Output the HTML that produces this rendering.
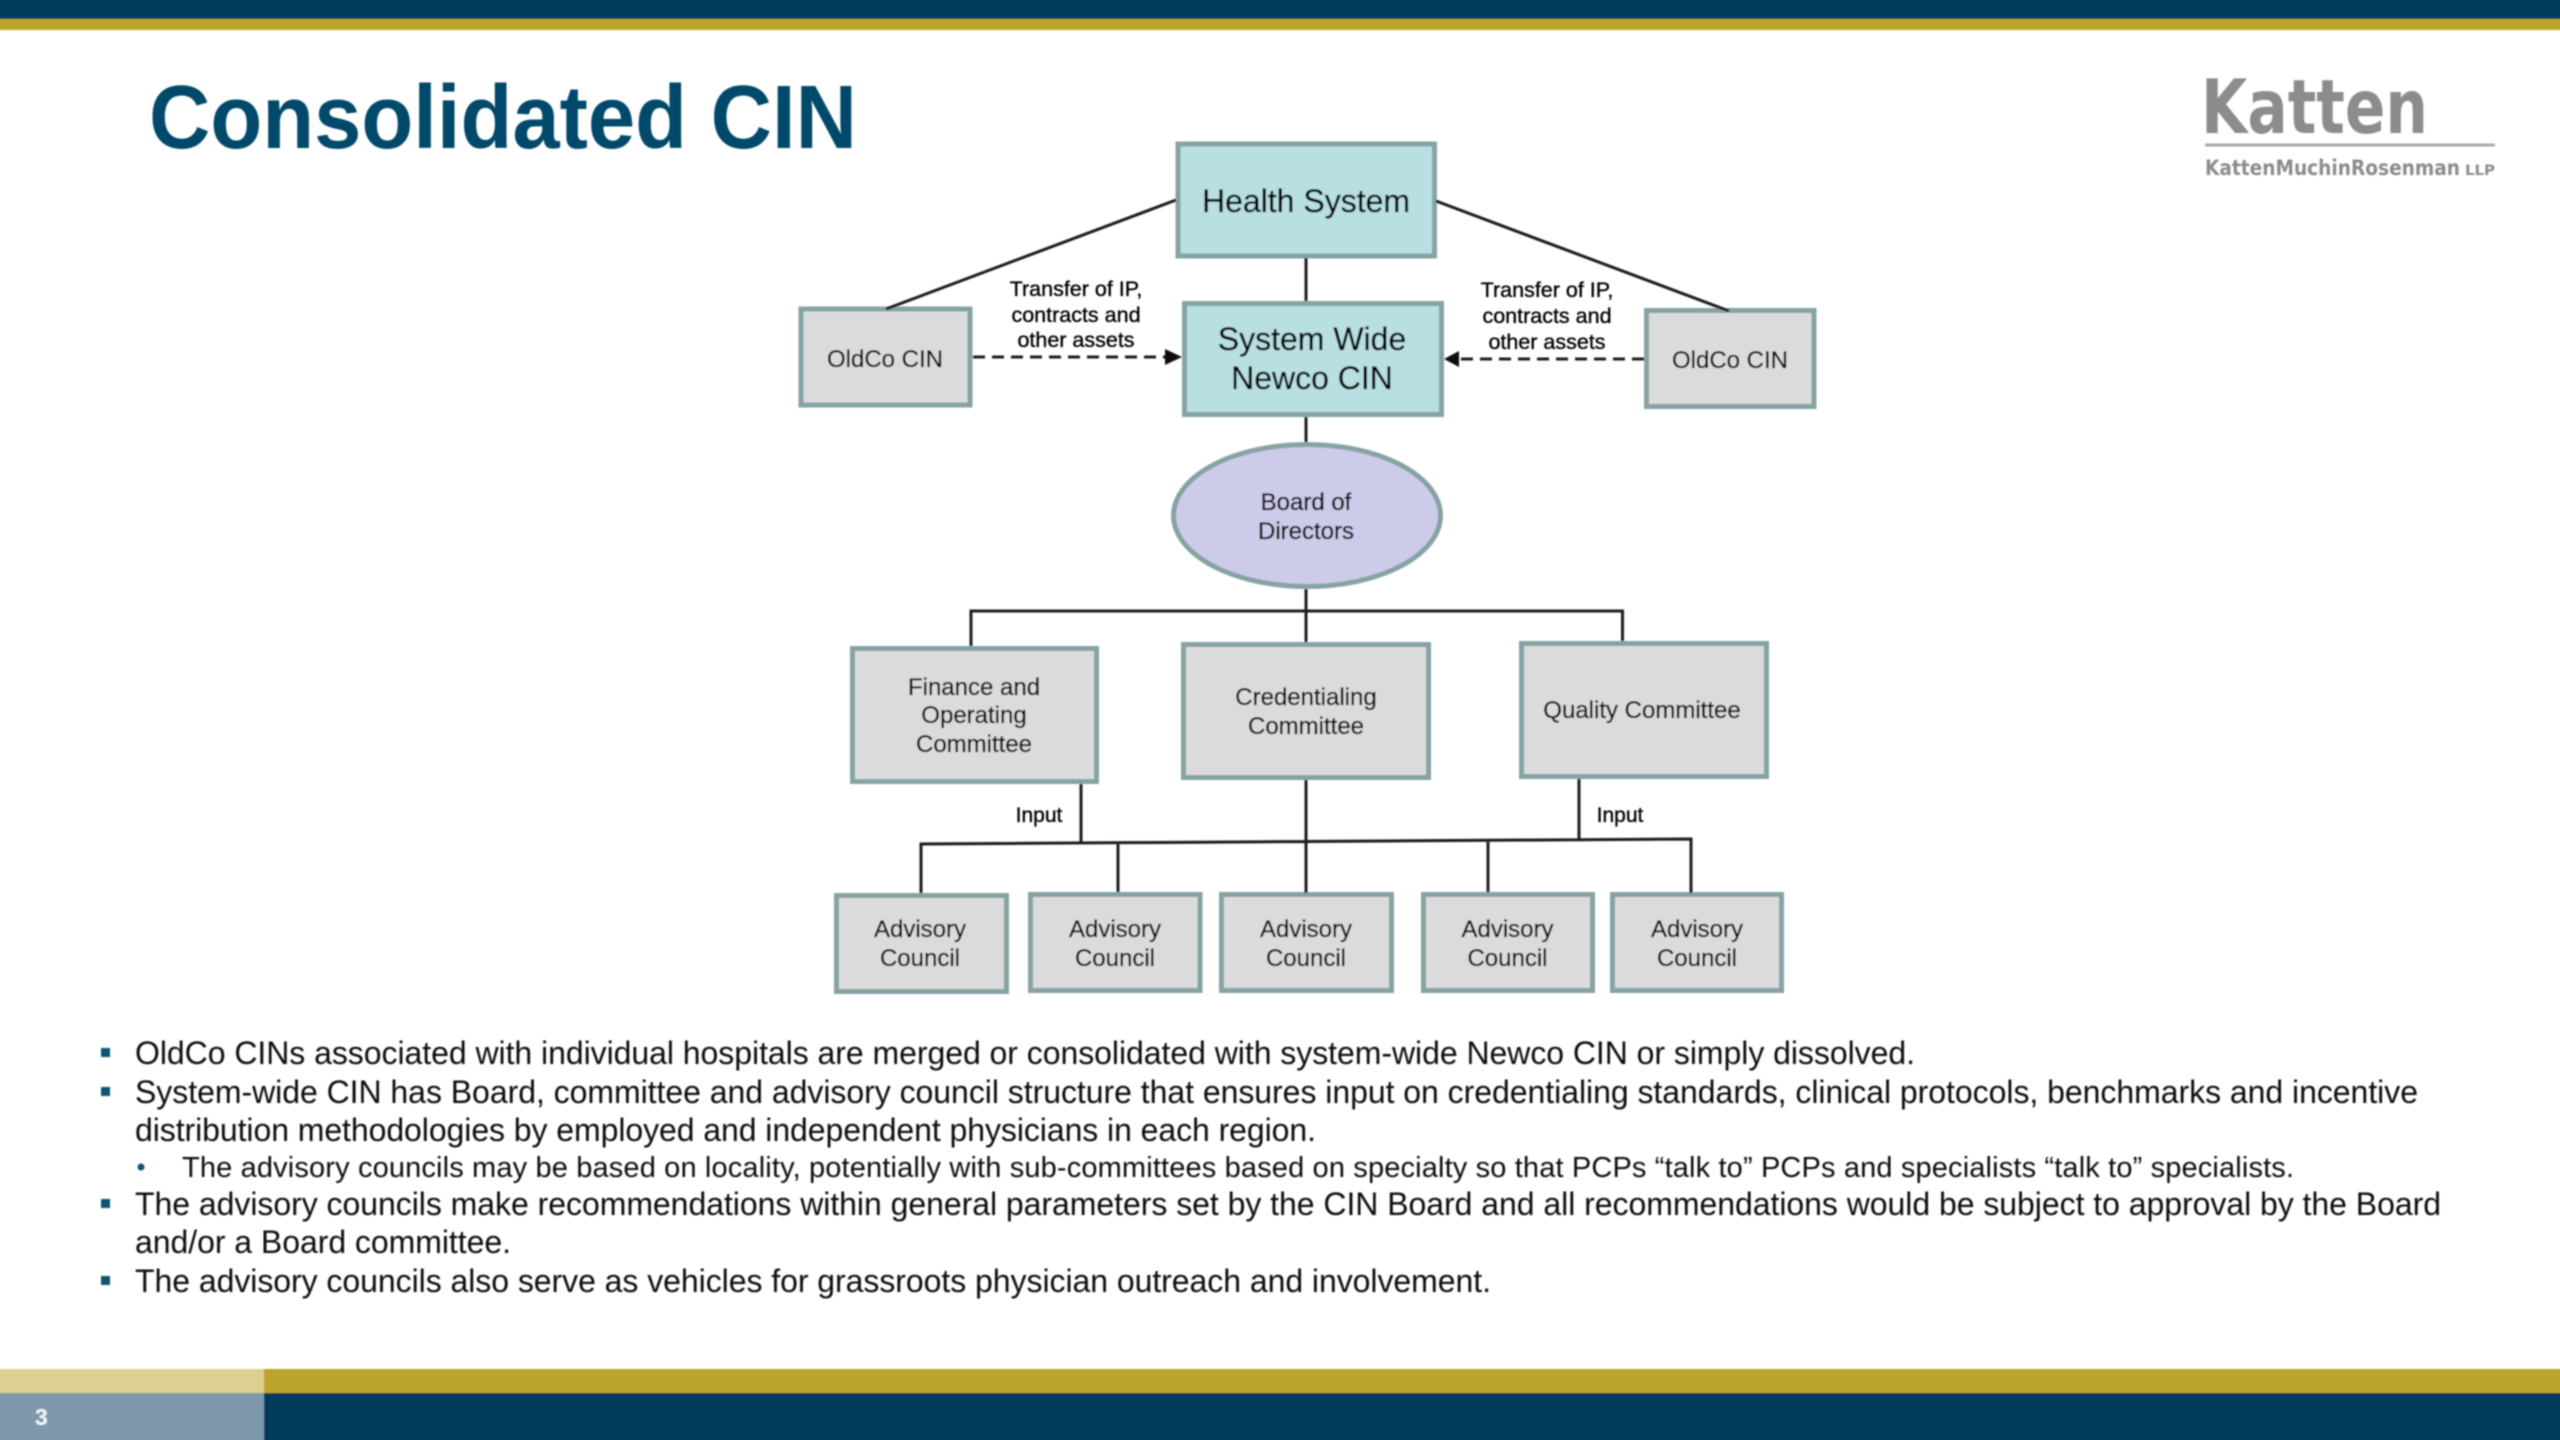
<!DOCTYPE html>
<html><head><meta charset="utf-8"><title>Consolidated CIN</title>
<style>html,body{margin:0;padding:0;background:#fff}svg{display:block}text{font-family:"Liberation Sans",sans-serif;fill:#111}.d text{fill:#000;stroke:#000;stroke-width:.35}.m{text-anchor:middle}.b{font-size:32px}.box{fill:#dbdbdb;stroke:#86a3a4;stroke-width:5}.teal{fill:#b8dfe2;stroke:#86a3a4;stroke-width:5}.ln{stroke:#1c1c1c;stroke-width:3;fill:none}</style></head>
<body>
<svg width="2560" height="1440" viewBox="0 0 2560 1440" xmlns="http://www.w3.org/2000/svg">
<defs><filter id="s" x="0" y="0" width="100%" height="100%" filterUnits="userSpaceOnUse"><feGaussianBlur stdDeviation="0.7"/></filter></defs>
<rect width="2560" height="1440" fill="#fff"/>
<g filter="url(#s)">
<rect x="-5" y="-5" width="2570" height="24" fill="#003b5c"/>
<rect x="-5" y="19" width="2570" height="11" fill="#bba42a"/>
<text x="149" y="148" font-size="90" font-weight="bold" style="fill:#05496a" textLength="708" lengthAdjust="spacingAndGlyphs">Consolidated CIN</text>
<text x="2201" y="133" font-size="75" textLength="227" lengthAdjust="spacingAndGlyphs" style="font-family:'DejaVu Sans',sans-serif;fill:#8c8c8c;font-weight:bold">Katten</text>
<text x="2205" y="175" font-size="21" textLength="255" lengthAdjust="spacingAndGlyphs" style="font-family:'DejaVu Sans',sans-serif;fill:#8c8c8c;font-weight:bold">KattenMuchinRosenman</text>
<text x="2465" y="175" font-size="14" textLength="30" lengthAdjust="spacingAndGlyphs" style="font-family:'DejaVu Sans',sans-serif;fill:#8c8c8c;font-weight:bold">LLP</text>
<rect x="2205" y="143.500" width="290" height="3" fill="#aaa"/>

<rect class="teal" x="1178" y="144" width="256.500" height="112"/>
<rect class="teal" x="1184.500" y="303.500" width="257" height="111"/>
<rect class="box" x="801" y="309" width="169" height="96"/>
<rect class="box" x="1646.500" y="310.500" width="167.500" height="96"/>
<ellipse cx="1307" cy="515.500" rx="133.500" ry="71" fill="#cccbea" stroke="#86a3a4" stroke-width="5"/>
<rect class="box" x="852.500" y="648.500" width="244" height="133"/>
<rect class="box" x="1183.500" y="644.500" width="245" height="133"/>
<rect class="box" x="1521.500" y="643.500" width="245" height="133"/>
<rect class="box" x="836.500" y="895.500" width="170" height="96"/>
<rect class="box" x="1030.500" y="894.500" width="169.500" height="96"/>
<rect class="box" x="1221.500" y="894.500" width="170" height="96"/>
<rect class="box" x="1423.500" y="894.500" width="169" height="96"/>
<rect class="box" x="1612.500" y="894.500" width="169" height="96"/>

<path class="ln" d="M1176 200L886 309M1436 201L1729 311M1306 258V301M1306 417V442M1306 589V642M971 646V611H1622.500V641M1081 784V844M1579 779V839M1306 780V893M921 893V844L1691 839V893M1118 843V892M1488 841V892"/>
<path class="ln" stroke-dasharray="12 7" d="M973 357H1168M1644 359H1458"/>
<path d="M1182 357L1165 349V365Z" fill="#111"/>
<path d="M1444 359L1459 351V367Z" fill="#111"/>

<g class="d">
<text class="m" x="1306" y="212" font-size="32">Health System</text>
<text class="m" x="1312" y="350" font-size="32">System Wide</text>
<text class="m" x="1312" y="389" font-size="32">Newco CIN</text>
<text class="m" x="885" y="367" font-size="24">OldCo CIN</text>
<text class="m" x="1730" y="368" font-size="24">OldCo CIN</text>
<text class="m" x="1076" y="296" font-size="21.500">Transfer of IP,</text>
<text class="m" x="1076" y="322" font-size="21.500">contracts and</text>
<text class="m" x="1076" y="347" font-size="21.500">other assets</text>
<text class="m" x="1547" y="297" font-size="21.500">Transfer of IP,</text>
<text class="m" x="1547" y="323" font-size="21.500">contracts and</text>
<text class="m" x="1547" y="349" font-size="21.500">other assets</text>
<text class="m" x="1306" y="510" font-size="24">Board of</text>
<text class="m" x="1306" y="539" font-size="24">Directors</text>
<text class="m" x="974" y="695" font-size="24">Finance and</text>
<text class="m" x="974" y="723" font-size="24">Operating</text>
<text class="m" x="974" y="752" font-size="24">Committee</text>
<text class="m" x="1306" y="705" font-size="24">Credentialing</text>
<text class="m" x="1306" y="734" font-size="24">Committee</text>
<text class="m" x="1642" y="718" font-size="24">Quality Committee</text>
<text class="m" x="1039" y="822" font-size="21">Input</text>
<text class="m" x="1620" y="822" font-size="21">Input</text>
<text class="m" x="920" y="937" font-size="24">Advisory</text><text class="m" x="920" y="966" font-size="24">Council</text>
<text class="m" x="1115" y="937" font-size="24">Advisory</text><text class="m" x="1115" y="966" font-size="24">Council</text>
<text class="m" x="1306" y="937" font-size="24">Advisory</text><text class="m" x="1306" y="966" font-size="24">Council</text>
<text class="m" x="1507.500" y="937" font-size="24">Advisory</text><text class="m" x="1507.500" y="966" font-size="24">Council</text>
<text class="m" x="1697" y="937" font-size="24">Advisory</text><text class="m" x="1697" y="966" font-size="24">Council</text>
</g>

<g fill="#0b5570">
<rect x="101" y="1048" width="9" height="9"/>
<rect x="101" y="1087" width="9" height="9"/>
<circle cx="141" cy="1167" r="3.500"/>
<rect x="101" y="1199" width="9" height="9"/>
<rect x="101" y="1276" width="9" height="9"/>
</g>
<text class="b" x="135" y="1064" textLength="1780">OldCo CINs associated with individual hospitals are merged or consolidated with system-wide Newco CIN or simply dissolved.</text>
<text class="b" x="135" y="1103" textLength="2283">System-wide CIN has Board, committee and advisory council structure that ensures input on credentialing standards, clinical protocols, benchmarks and incentive</text>
<text class="b" x="135" y="1141" textLength="1181">distribution methodologies by employed and independent physicians in each region.</text>
<text x="182" y="1177" font-size="29" textLength="2112">The advisory councils may be based on locality, potentially with sub-committees based on specialty so that PCPs “talk to” PCPs and specialists “talk to” specialists.</text>
<text class="b" x="135" y="1215" textLength="2306">The advisory councils make recommendations within general parameters set by the CIN Board and all recommendations would be subject to approval by the Board</text>
<text class="b" x="135" y="1253" textLength="376">and/or a Board committee.</text>
<text class="b" x="135" y="1292" textLength="1356">The advisory councils also serve as vehicles for grassroots physician outreach and involvement.</text>

<rect x="-5" y="1369" width="269" height="24" fill="#dccf8f"/>
<rect x="264" y="1369" width="2301" height="24" fill="#bba42a"/>
<rect x="-5" y="1393" width="269" height="52" fill="#7e99ad"/>
<rect x="264" y="1393" width="2301" height="52" fill="#003b5c"/>
<text x="35" y="1425" font-size="23" font-weight="bold" style="fill:#f2f5f8">3</text>
</g>
</svg>
</body></html>
